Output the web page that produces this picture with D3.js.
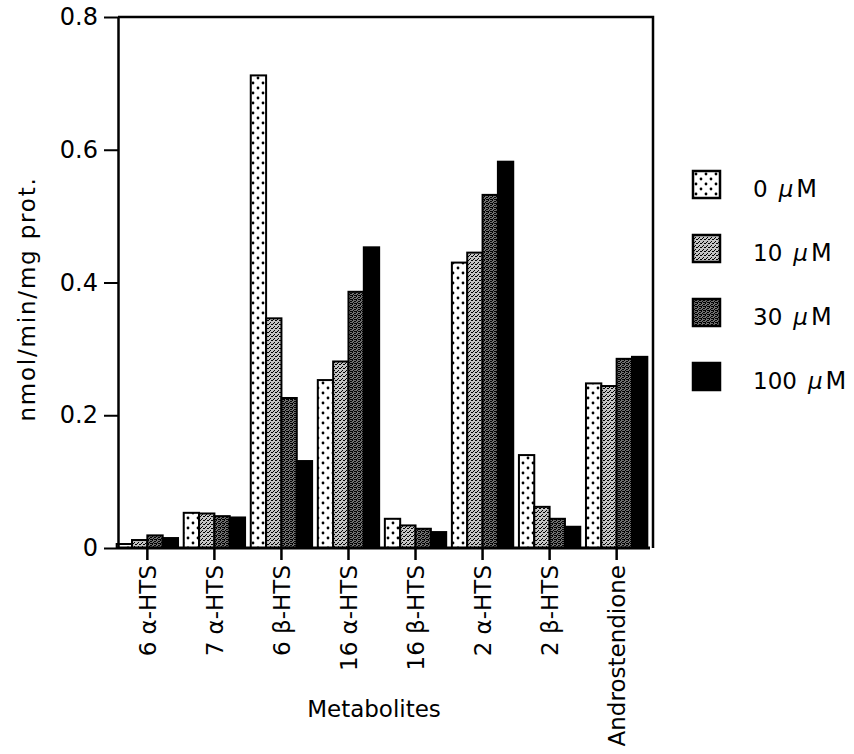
<!DOCTYPE html>
<html>
<head>
<meta charset="utf-8">
<script src="https://cdn.jsdelivr.net/npm/d3@7"></script>
<style>
  body { margin: 0; background: #fff; }
  text { font-family: "DejaVu Sans", sans-serif; fill: #000; }
</style>
</head>
<body>
<script>
// metabolites on the x axis
var metabolites = ['6 α-HTS', '7 α-HTS', '6 β-HTS', '16 α-HTS', '16 β-HTS', '2 α-HTS', '2 β-HTS', 'Androstendione']
var doses = ['0', '10', '30', '100']

// nmol/min/mg prot., one array per dose
var dose0   = [0.006, 0.053, 0.712, 0.253, 0.044, 0.430, 0.140, 0.248]
var dose10  = [0.012, 0.052, 0.346, 0.281, 0.034, 0.445, 0.062, 0.244]
var dose30  = [0.019, 0.048, 0.226, 0.386, 0.029, 0.532, 0.044, 0.285]
var dose100 = [0.015, 0.046, 0.131, 0.453, 0.024, 0.582, 0.032, 0.288]

var yTicks = [0, 0.2, 0.4, 0.6, 0.8]

var series = [dose0, dose10, dose30, dose100]

var svg = d3.select('body').append('svg')
    .attr('width', 854)
    .attr('height', 754)

var defs = svg.append('defs')

// dotted fill for 0 uM
var p0 = defs.append('pattern').attr('id', 'fill0')
    .attr('patternUnits', 'userSpaceOnUse').attr('width', 10).attr('height', 10)
p0.append('rect').attr('width', 10).attr('height', 10).attr('fill', '#fff')
p0.append('circle').attr('cx', 3).attr('cy', 3).attr('r', 1.4).attr('fill', '#000')
p0.append('circle').attr('cx', 8).attr('cy', 8).attr('r', 1.4).attr('fill', '#000')

// stipple fills for 10 and 30 uM
function stipple(id, bg, dots) {
  var p = defs.append('pattern').attr('id', id)
      .attr('patternUnits', 'userSpaceOnUse').attr('width', 4).attr('height', 4)
  p.append('rect').attr('width', 4).attr('height', 4).attr('fill', bg)
  dots.forEach(function(d) {
    p.append('rect').attr('x', d[0]).attr('y', d[1]).attr('width', 1).attr('height', 1).attr('fill', '#000')
  })
}
stipple('fill10', '#c4c4c4', [[0, 0], [2, 2], [3, 0], [1, 3]])
stipple('fill30', '#707070', [[0, 0], [2, 1], [1, 2], [3, 3], [0, 3], [2, 3], [3, 1]])

var fills = ['url(#fill0)', 'url(#fill10)', 'url(#fill30)', '#000']

var mLeft = 118, mRight = 653, mTop = 17, mBottom = 548

var x = d3.scaleBand()
    .domain(metabolites)
    .range([mLeft - 4, mRight - 3])
    .paddingInner(0.085)
    .paddingOuter(0.04)

var xs = d3.scaleBand()
    .domain(doses)
    .range([0, x.bandwidth()])

var y = d3.scaleLinear()
    .domain([0, 0.8])
    .range([mBottom, mTop])

// bars
var groups = svg.append('g').selectAll('g')
    .data(series)
    .enter().append('g')
      .attr('fill', function(d, i) { return fills[i] })

groups.each(function(vals, i) {
  d3.select(this).selectAll('rect')
    .data(vals)
    .enter().append('rect')
      .attr('x', function(d, j) { return x(metabolites[j]) + xs(doses[i]) })
      .attr('y', function(d) { return y(d) })
      .attr('width', xs.bandwidth())
      .attr('height', function(d) { return y(0) - y(d) })
      .attr('stroke', '#000')
      .attr('stroke-width', 2)
})

// frame: top and right lines
svg.append('path')
    .attr('d', 'M' + mLeft + ',' + mTop + 'H' + mRight + 'V' + mBottom)
    .attr('fill', 'none').attr('stroke', '#000').attr('stroke-width', 2.5)

// y axis
var yAxis = svg.append('g')
    .attr('transform', 'translate(' + mLeft + ',0)')
    .call(d3.axisLeft(y).tickValues(yTicks).tickSize(14).tickPadding(6).tickSizeOuter(0)
      .tickFormat(function(d) { return d === 0 ? '0' : d3.format('.1f')(d) }))
yAxis.select('.domain').attr('stroke-width', 2.5)
yAxis.selectAll('.tick line').attr('stroke-width', 2)
yAxis.selectAll('.tick text').attr('font-size', 24).attr('font-family', '"DejaVu Sans", sans-serif')

// x axis
var xAxis = svg.append('g')
    .attr('transform', 'translate(0,' + mBottom + ')')
    .call(d3.axisBottom(x).tickSize(12).tickPadding(6).tickSizeOuter(0))
xAxis.select('.domain').attr('d', 'M' + mLeft + ',0H' + (mRight - 3)).attr('stroke-width', 3)
xAxis.selectAll('.tick line').attr('stroke-width', 2.5)
xAxis.selectAll('.tick text')
    .attr('font-size', 23)
    .attr('font-family', '"DejaVu Sans", sans-serif')
    .attr('transform', 'rotate(-90)')
    .attr('text-anchor', 'end')
    .attr('x', -17)
    .attr('y', 0)
    .attr('dy', '0.36em')

// axis titles
svg.append('text')
    .attr('transform', 'translate(35,299) rotate(-90)')
    .attr('text-anchor', 'middle')
    .attr('font-size', 23)
    .attr('letter-spacing', 1.8)
    .text('nmol/min/mg prot.')

svg.append('text')
    .attr('x', 374).attr('y', 717)
    .attr('text-anchor', 'middle')
    .attr('font-size', 23)
    .text('Metabolites')

// legend
var legend = svg.append('g').selectAll('g')
    .data(doses)
    .enter().append('g')
      .attr('transform', function(d, i) { return 'translate(693,' + (171 + i * 64) + ')' })

legend.append('rect')
    .attr('width', 27).attr('height', 27)
    .attr('fill', function(d, i) { return fills[i] })
    .attr('stroke', '#000').attr('stroke-width', 2.5)

var lt = legend.append('text')
    .attr('x', 60).attr('y', 26)
    .attr('font-size', 23)
lt.append('tspan').text(function(d) { return d })
lt.append('tspan').attr('dx', 11).attr('font-style', 'italic').text('μ')
lt.append('tspan').attr('dx', 3).attr('font-size', 24).text('M')
</script>
</body>
</html>
